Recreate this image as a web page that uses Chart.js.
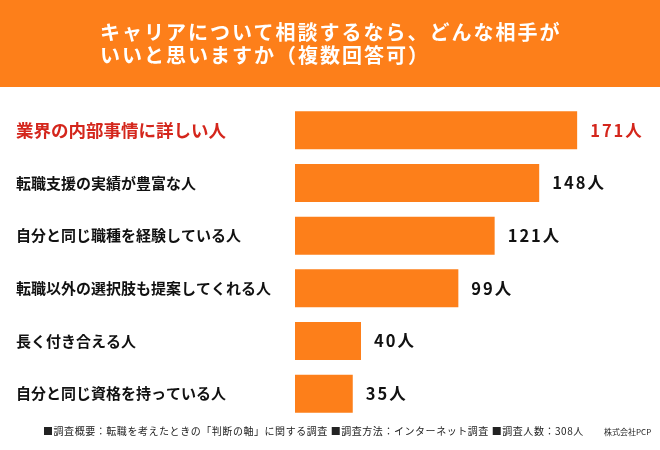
<!DOCTYPE html>
<html>
<head>
<meta charset="utf-8">
<script src="https://cdn.jsdelivr.net/npm/chart.js@4/dist/chart.umd.min.js"></script>
<style>
  html, body { margin: 0; padding: 0; background: #fff; }
  #wrap { position: relative; width: 660px; height: 450px; overflow: hidden; font-family: "Noto Sans CJK JP", "Noto Sans", sans-serif; }
  #band { position: absolute; left: 0; top: 0; width: 660px; height: 87px; background: #fd7f1a; }
  #c { position: absolute; left: 0; top: 0; }
  #title { position: absolute; left: 100px; top: 20px; color: #fff; font-weight: bold; font-size: 20px; line-height: 23px; letter-spacing: 2px; white-space: nowrap; }
  #foot { position: absolute; left: 43px; top: 423px; font-size: 10px; color: #222; white-space: nowrap; letter-spacing: 0.55px; }
  #corp { position: absolute; left: 604px; top: 426px; font-size: 8px; color: #222; white-space: nowrap; }
</style>
</head>
<body>
<div id="wrap">
  <div id="band"></div>
  <canvas id="c" width="660" height="450"></canvas>
  <div id="title">キャリアについて相談するなら、どんな相手が<br>いいと思いますか（複数回答可）</div>
  <div id="foot">■調査概要：転職を考えたときの「判断の軸」に関する調査 ■調査方法：インターネット調査 ■調査人数：308人</div>
  <div id="corp">株式会社PCP</div>
</div>
<script>
const categories = [
  "業界の内部事情に詳しい人",
  "転職支援の実績が豊富な人",
  "自分と同じ職種を経験している人",
  "転職以外の選択肢も提案してくれる人",
  "長く付き合える人",
  "自分と同じ資格を持っている人"
];
const values = [171, 148, 121, 99, 40, 35];
const unit = "人";

const ORANGE = "#fd7f1a";
const RED = "#d4261c";
const DARK = "#111111";
const FONT = '"Noto Sans CJK JP", "Noto Sans", sans-serif';

const valueLabels = {
  id: "valueLabels",
  afterDatasetsDraw(chart) {
    const ctx = chart.ctx;
    const meta = chart.getDatasetMeta(0);
    ctx.save();
    ctx.font = "bold 16.5px " + FONT;
    ctx.textBaseline = "middle";
    ctx.textAlign = "left";
    try { ctx.letterSpacing = "2px"; } catch (e) {}
    meta.data.forEach((bar, i) => {
      ctx.fillStyle = i === 0 ? RED : DARK;
      ctx.fillText(values[i] + unit, bar.x + 13, bar.y);
    });
    ctx.restore();
  }
};

new Chart(document.getElementById("c"), {
  type: "bar",
  data: {
    labels: categories,
    datasets: [{
      data: values,
      backgroundColor: ORANGE,
      borderWidth: 0,
      categoryPercentage: 1,
      barPercentage: 0.72
    }]
  },
  options: {
    indexAxis: "y",
    responsive: false,
    animation: false,
    layout: { padding: { left: 16, right: 35, top: 104, bottom: 30 } },
    plugins: { legend: { display: false }, tooltip: { enabled: false } },
    scales: {
      x: { display: false, min: 0, max: 200 },
      y: {
        grid: { display: false },
        border: { display: false },
        afterFit(scale) { scale.width = 279; },
        ticks: {
          crossAlign: "far",
          autoSkip: false,
          color: (c) => c.index === 0 ? RED : DARK,
          font: (c) => c.index === 0
            ? { family: FONT, size: 17.5, weight: "bold" }
            : { family: FONT, size: 15, weight: "bold" }
        }
      }
    }
  },
  plugins: [valueLabels]
});
</script>
</body>
</html>
